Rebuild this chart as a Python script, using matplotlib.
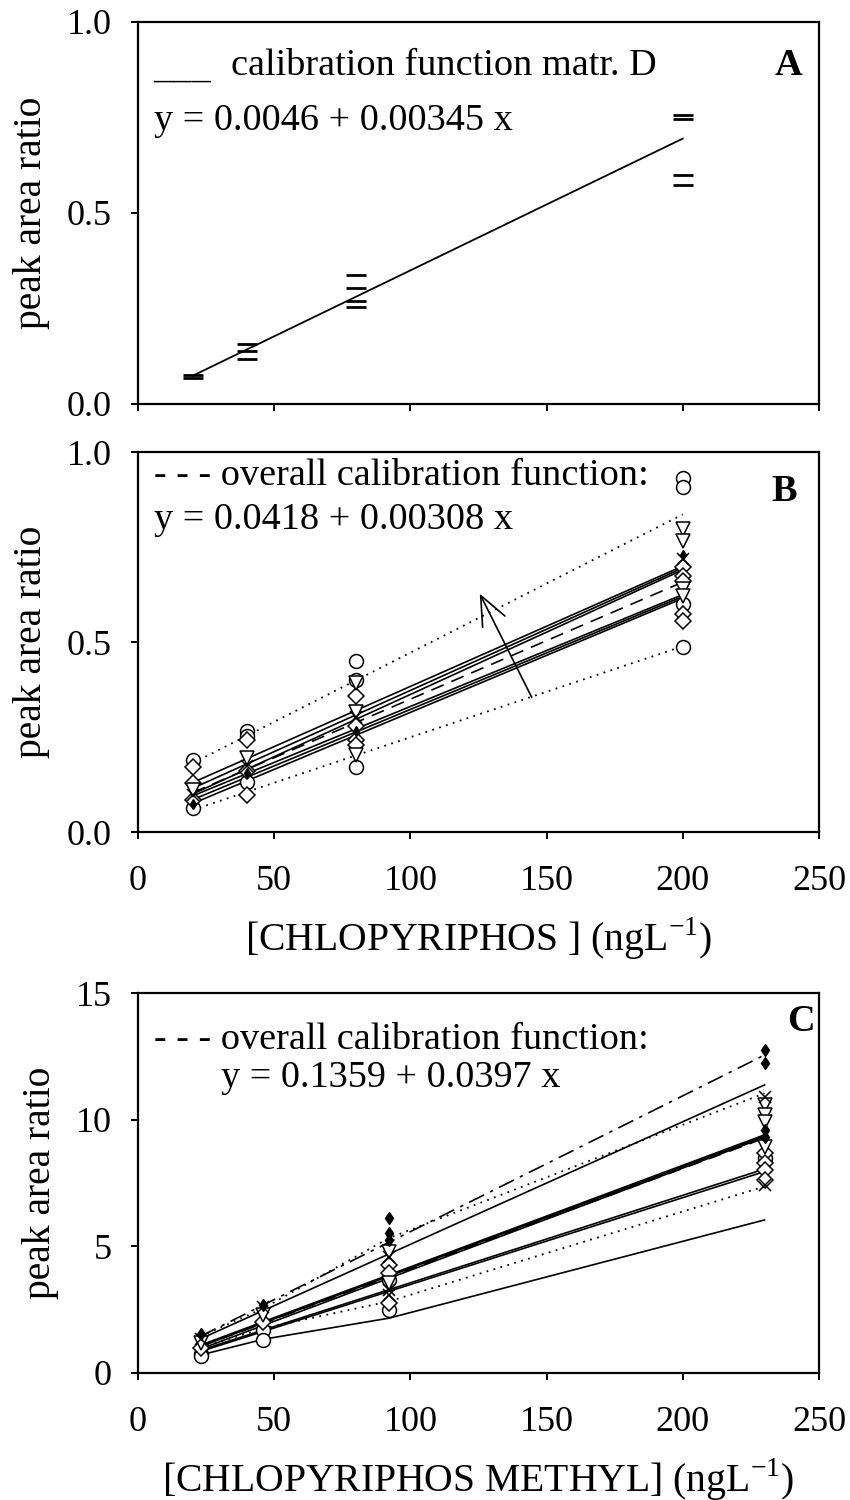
import matplotlib
matplotlib.use('Agg')
from matplotlib import pyplot as plt

plt.rcParams['font.family'] = ['Liberation Serif', 'DejaVu Serif']
plt.rcParams['mathtext.fontset'] = 'custom'
plt.rcParams['mathtext.rm'] = 'Liberation Serif'

# ---- panel A: matrix D replicates ----
a_x = [20, 20, 40, 40, 40, 80, 80, 80, 80, 200, 200, 200, 200]
a_y = [0.075, 0.068, 0.156, 0.139, 0.118, 0.338, 0.303, 0.27, 0.255, 0.757, 0.747, 0.598, 0.572]
a_b0, a_b1 = 0.0046, 0.00345

# ---- panel B: chlorpyriphos, all matrices ----
b_conc = [20, 40, 80, 200]
b_circ_x = [20, 20, 40, 40, 40, 80, 80, 80, 200, 200, 200, 200]
b_circ_y = [0.19, 0.062, 0.265, 0.252, 0.133, 0.449, 0.40, 0.172, 0.933, 0.907, 0.60, 0.487]
b_diam_x = [20, 20, 20, 40, 40, 40, 80, 80, 80, 80, 200, 200, 200, 200, 200]
b_diam_y = [0.172, 0.13, 0.085, 0.243, 0.16, 0.098, 0.357, 0.278, 0.243, 0.23, 0.698, 0.674, 0.66, 0.573, 0.555]
b_tri_x = [20, 40, 80, 80, 80, 200, 200, 200, 200]
b_tri_y = [0.11, 0.196, 0.392, 0.317, 0.203, 0.797, 0.766, 0.64, 0.62]
b_cross_x = [20, 40, 80, 200]
b_cross_y = [0.098, 0.175, 0.304, 0.718]
b_dot_x = [20, 40, 80, 200]
b_dot_y = [0.075, 0.155, 0.265, 0.728]
# individual calibration lines: value at 20 and at 200
b_fit_lo = [0.13, 0.115, 0.10, 0.095, 0.085, 0.075]
b_fit_hi = [0.70, 0.695, 0.69, 0.625, 0.62, 0.615]
b_band_up = [0.181, 0.836]
b_band_lo = [0.058, 0.489]
b_b0, b_b1 = 0.0418, 0.00308

# ---- panel C: chlorpyriphos methyl ----
c_conc = [23, 46, 92, 230]
c_fill_x = [23, 46, 92, 92, 92, 230, 230, 230, 230]
c_fill_y = [1.55, 2.7, 6.13, 5.51, 5.25, 12.75, 12.22, 9.59, 9.33]
c_cross_x = [23, 46, 92, 92, 92, 230, 230]
c_cross_y = [1.35, 2.6, 4.59, 3.28, 3.08, 10.9, 7.42]
c_tri_x = [23, 46, 92, 92, 230, 230, 230, 230]
c_tri_y = [1.2, 2.3, 4.79, 3.54, 10.58, 10.18, 9.92, 8.93]
c_diam_x = [23, 46, 92, 92, 92, 230, 230, 230, 230]
c_diam_y = [1.0, 2.0, 4.26, 3.93, 2.75, 8.67, 8.28, 8.01, 7.62]
c_circ_x = [23, 23, 46, 46, 92, 92, 230]
c_circ_y = [0.75, 0.65, 1.7, 1.3, 3.67, 2.49, 8.5]
# straight fits: value at 23 and 230
c_fit_lo = [1.35, 1.1, 1.05, 0.95, 0.9, 0.85]
c_fit_hi = [11.37, 9.4, 9.35, 9.3, 8.05, 7.95]
c_dashdot = [1.45, 12.55]
c_band_up = [1.45, 2.55, 5.32, 11.04]
c_band_lo = [1.0, 1.76, 2.82, 7.36]
c_curve = [0.71, 1.33, 2.16, 6.04]
c_b0, c_b1 = 0.1359, 0.0397

fig = plt.figure(figsize=(8.5, 15), dpi=100)
axA = fig.add_axes([0.1624, 0.7307, 0.8011, 0.2547])
axB = fig.add_axes([0.1624, 0.4453, 0.8011, 0.2533])
axC = fig.add_axes([0.1624, 0.0847, 0.8011, 0.2533])

tick_fs = 26
lab_fs = 28.5
txt_fs = 27.5

for ax in (axA, axB, axC):
    ax.set_xlim(0, 250)
    ax.set_xticks([0, 50, 100, 150, 200, 250])
    for s in ax.spines.values():
        s.set_linewidth(1.6)
    ax.tick_params(direction='out', length=5, width=1.4, labelsize=tick_fs)
    ax.tick_params(axis='x', pad=19)
    ax.tick_params(axis='y', pad=14)
    ax.set_ylabel('peak area ratio', fontsize=lab_fs, labelpad=12)

# A
axA.plot([20, 200], [a_b0 + a_b1 * 20, a_b0 + a_b1 * 200], color='black', lw=1.3)
axA.plot(a_x, a_y, linestyle='none', marker='_', ms=14, mew=2, color='black')
axA.set_ylim(0, 1)
axA.set_yticks([0, 0.5, 1.0])
axA.set_yticklabels(['0.0', '0.5', '1.0'])
axA.set_xticklabels([])
axA.text(0.023, 0.853, '___', transform=axA.transAxes, fontsize=txt_fs, va='baseline')
axA.text(0.136, 0.885, 'calibration function matr. D', transform=axA.transAxes, fontsize=txt_fs, va='center')
axA.text(0.023, 0.741, 'y = 0.0046 + 0.00345 x', transform=axA.transAxes, fontsize=txt_fs, va='center')
axA.text(0.955, 0.885, 'A', transform=axA.transAxes, fontsize=txt_fs, fontweight='bold', ha='center', va='center')

# B
for lo, hi in zip(b_fit_lo, b_fit_hi):
    axB.plot([b_conc[0], b_conc[-1]], [lo, hi], color='black', lw=1.2)
axB.plot([b_conc[0], b_conc[-1]], b_band_up, color='black', lw=1.3, linestyle=(0, (1, 3)))
axB.plot([b_conc[0], b_conc[-1]], b_band_lo, color='black', lw=1.3, linestyle=(0, (1, 3)))
axB.plot([20, 200], [b_b0 + b_b1 * 20, b_b0 + b_b1 * 200], color='black', lw=1.2, linestyle=(0, (8, 5)))
mk = dict(linestyle='none', color='black', mfc='white', mew=1.1)
axB.plot(b_circ_x, b_circ_y, marker='o', ms=10, **mk)
axB.plot(b_diam_x, b_diam_y, marker='D', ms=8, **mk)
axB.plot(b_tri_x, b_tri_y, marker='v', ms=10, **mk)
axB.plot(b_cross_x, b_cross_y, marker='x', ms=8, **mk)
axB.plot(b_dot_x, b_dot_y, linestyle='none', marker='d', ms=5, color='black')
axB.annotate('', xy=(125, 0.634), xytext=(145, 0.348),
             arrowprops=dict(arrowstyle='->,head_length=0.7,head_width=0.3', color='black', lw=1.2, mutation_scale=30))
axB.set_ylim(0, 1)
axB.set_yticks([0, 0.5, 1.0])
axB.set_yticklabels(['0.0', '0.5', '1.0'])
axB.set_xlabel('[CHLOPYRIPHOS ] (ngL$^{\\mathregular{-1}}$)', fontsize=lab_fs, labelpad=12)
axB.text(0.023, 0.939, '- - - overall calibration function:', transform=axB.transAxes, fontsize=txt_fs, va='center')
axB.text(0.023, 0.821, 'y = 0.0418 + 0.00308 x', transform=axB.transAxes, fontsize=txt_fs, va='center')
axB.text(0.949, 0.895, 'B', transform=axB.transAxes, fontsize=txt_fs, fontweight='bold', ha='center', va='center')

# C
for lo, hi in zip(c_fit_lo, c_fit_hi):
    axC.plot([c_conc[0], c_conc[-1]], [lo, hi], color='black', lw=1.2)
axC.plot([c_conc[0], c_conc[-1]], c_dashdot, color='black', lw=1.2, linestyle=(0, (10, 4, 2, 4)))
axC.plot(c_conc, c_band_up, color='black', lw=1.3, linestyle=(0, (1, 3)))
axC.plot(c_conc, c_band_lo, color='black', lw=1.3, linestyle=(0, (1, 3)))
axC.plot(c_conc, c_curve, color='black', lw=1.2)
axC.plot([23, 230], [c_b0 + c_b1 * 23, c_b0 + c_b1 * 230], color='black', lw=1.2, linestyle=(0, (8, 5)))
axC.plot(c_circ_x, c_circ_y, marker='o', ms=10, **mk)
axC.plot(c_diam_x, c_diam_y, marker='D', ms=8, **mk)
axC.plot(c_tri_x, c_tri_y, marker='v', ms=10, **mk)
axC.plot(c_cross_x, c_cross_y, marker='x', ms=9, **mk)
axC.plot(c_fill_x, c_fill_y, linestyle='none', marker='d', ms=6, color='black')
axC.set_ylim(0, 15)
axC.set_yticks([0, 5, 10, 15])
axC.set_xlabel('[CHLOPYRIPHOS METHYL] (ngL$^{\\mathregular{-1}}$)', fontsize=lab_fs, labelpad=12)
axC.text(0.023, 0.876, '- - - overall calibration function:', transform=axC.transAxes, fontsize=txt_fs, va='center')
axC.text(0.1216, 0.776, 'y = 0.1359 + 0.0397 x', transform=axC.transAxes, fontsize=txt_fs, va='center')
axC.text(0.974, 0.924, 'C', transform=axC.transAxes, fontsize=txt_fs, fontweight='bold', ha='center', va='center')

fig.savefig('out.png', dpi=100)
